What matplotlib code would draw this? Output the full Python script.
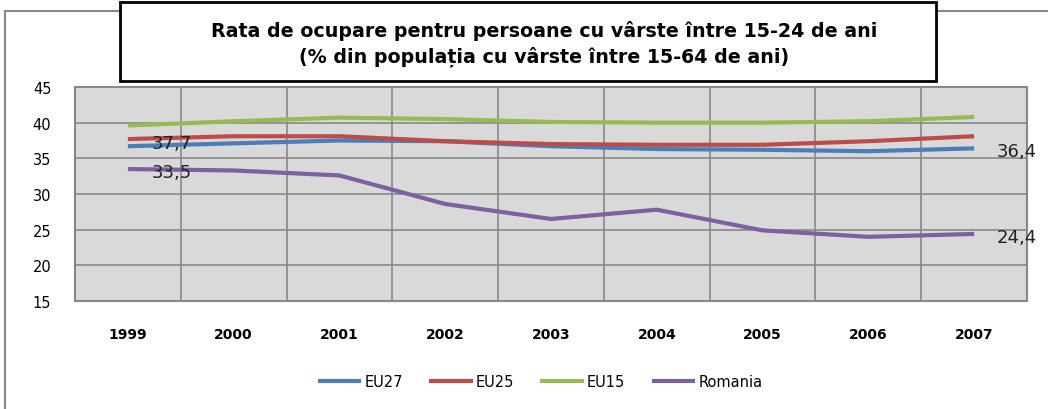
import matplotlib.pyplot as plt
from matplotlib.patches import Rectangle
import numpy as np

years = ["1999", "2000", "2001", "2002", "2003", "2004", "2005", "2006", "2007"]
eu27 = [36.7, 37.1, 37.5, 37.4, 36.7, 36.3, 36.2, 36.0, 36.4]
eu25 = [37.7, 38.1, 38.1, 37.4, 37.0, 36.9, 36.9, 37.4, 38.1]
eu15 = [39.6, 40.2, 40.7, 40.5, 40.1, 40.0, 40.0, 40.2, 40.8]
romania = [33.5, 33.3, 32.6, 28.6, 26.5, 27.8, 24.9, 24.0, 24.4]

series = [("EU27", eu27, "#4a7ebb"), ("EU25", eu25, "#be4b48"),
          ("EU15", eu15, "#98b954"), ("Romania", romania, "#7d60a0")]

fig = plt.figure(figsize=(10.48, 4.10), dpi=100)

# outer chart frame (only left and top edges visible)
fig.patches.append(Rectangle((5 / 1048, -0.2), 1.2, 1.2 - 12 / 410, transform=fig.transFigure,
                             fill=False, edgecolor="#888888", linewidth=1.5))

ax = fig.add_axes([75 / 1048, 1 - 302 / 410, 952 / 1048, 214 / 410])
ax.set_facecolor("#d9d9d9")

x = np.arange(len(years))
for name, vals, col in series:
    ax.plot(x, vals, color=col, linewidth=3, label=name, solid_capstyle="butt")

ax.set_xlim(-0.5, len(years) - 0.5)
ax.set_ylim(15, 45)
ax.set_yticks(range(15, 46, 5))
ax.set_xticks(x)
ax.set_xticklabels(years, fontweight="bold", fontsize=10)
ax.set_xticks(np.arange(-0.5, len(years)), minor=True)
ax.tick_params(axis="x", which="both", length=0, pad=19)
ax.tick_params(axis="y", length=0, pad=17, labelsize=10.5)
ax.grid(True, axis="y", color="#888888", linewidth=1.2)
ax.grid(True, axis="x", which="minor", color="#888888", linewidth=1.2)
ax.grid(False, axis="x", which="major")
for sp in ax.spines.values():
    sp.set_color("#888888")
    sp.set_linewidth(1.5)

# data labels
lab = dict(textcoords="offset points", fontsize=13, color="#222222", va="center")
ax.annotate("37,7", (0, eu25[0]), xytext=(17, -3), **lab)
ax.annotate("33,5", (0, romania[0]), xytext=(17, -2), **lab)
ax.annotate("36,4", (8, eu27[-1]), xytext=(16, -2), **lab)
ax.annotate("24,4", (8, romania[-1]), xytext=(16, -2), **lab)

# title box
fig.patches.append(Rectangle((120 / 1048, 1 - 82 / 410), 816 / 1048, 79 / 410,
                             transform=fig.transFigure, facecolor="white",
                             edgecolor="black", linewidth=2, zorder=5))
fig.text(544 / 1048, 1 - 44 / 410,
         "Rata de ocupare pentru persoane cu vârste între 15-24 de ani\n"
         "(% din populația cu vârste între 15-64 de ani)",
         ha="center", va="center", fontsize=13.7, fontweight="bold",
         linespacing=1.3, zorder=6)

fig.legend(loc="center", bbox_to_anchor=(540 / 1048, 1 - 383 / 410), ncol=4,
           frameon=False, fontsize=10.5, handlelength=3, columnspacing=1.8,
           handletextpad=0.2)

fig.savefig("out.png", dpi=100)
